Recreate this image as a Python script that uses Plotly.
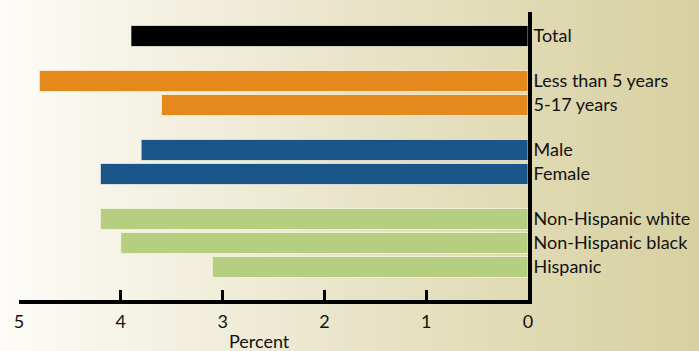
import plotly.graph_objects as go

# ---- data ----
categories = ["Total", "Less than 5 years", "5-17 years", "Male", "Female",
              "Non-Hispanic white", "Non-Hispanic black", "Hispanic"]
values = [3.9, 4.8, 3.6, 3.8, 4.2, 4.2, 4.0, 3.1]
groups = [0, 1, 1, 2, 2, 3, 3, 3]
tick_vals = [5, 4, 3, 2, 1, 0]
tick_labels = ["5", "4", "3", "2", "1", "0"]
x_title = "Percent"

# ---- style ----
group_colors = ["#000000", "#e6891c", "#1a5589", "#b6ce80"]
GAP = 0.875
BAR_W = 0.875
pos = [i + g * GAP for i, g in enumerate(groups)]

W, H = 699, 351
ML, MR, MT, MB = 19, 171, 12, 51
PW = W - ML - MR
PH = H - MT - MB

FONT = "Lato"
FS = 18


def lerp(c1, c2, t):
    return tuple(round(a + (b - a) * t) for a, b in zip(c1, c2))


stops = [(0, (253, 252, 248)), (350, (233, 228, 201)), (699, (215, 208, 160))]


def bg_color(px):
    for (x0, c0), (x1, c1) in zip(stops[:-1], stops[1:]):
        if x0 <= px <= x1:
            return lerp(c0, c1, (px - x0) / (x1 - x0))
    return stops[-1][1]


shapes = []
step = 5
for px in range(0, W, step):
    c = bg_color(px + step / 2)
    shapes.append(dict(
        type="rect", xref="paper", yref="paper", layer="below",
        x0=(px - ML) / PW, x1=(px + step + 0.5 - ML) / PW,
        y0=-MB / PH - 0.02, y1=1 + MT / PH + 0.02,
        fillcolor="rgb(%d,%d,%d)" % c, line=dict(width=0),
    ))

fig = go.Figure(go.Bar(
    x=values, y=pos, orientation="h", width=BAR_W,
    marker=dict(color=[group_colors[g] for g in groups],
                line=dict(color="rgba(250,248,228,0.7)", width=1)),
    hoverinfo="x+text", text=categories, textposition="none",
))

fig.update_layout(
    width=W, height=H,
    margin=dict(l=ML, r=MR, t=MT, b=MB, autoexpand=False),
    paper_bgcolor="rgb(240,237,220)",
    plot_bgcolor="rgba(0,0,0,0)",
    showlegend=False,
    shapes=shapes,
    font=dict(family=FONT, size=FS, color="#111111"),
    xaxis=dict(
        range=[5, 0], tickvals=tick_vals, ticktext=tick_labels,
        ticks="inside", ticklen=10, tickwidth=3, tickcolor="black",
        showline=True, linewidth=4, linecolor="black",
        showgrid=False, zeroline=False, automargin=False,
        tickfont=dict(family=FONT, size=FS, color="#111111"),
        ticklabelstandoff=2,
    ),
    yaxis=dict(
        range=[11, -1], side="right",
        tickvals=pos, ticktext=categories, ticks="",
        showline=True, linewidth=4, linecolor="black",
        showgrid=False, zeroline=False, automargin=False,
        tickfont=dict(family=FONT, size=FS, color="#111111"),
        ticklabelstandoff=-2,
    ),
    annotations=[dict(
        text=x_title, xref="paper", yref="paper",
        x=(259 - ML) / PW, y=-(341 - (H - MB)) / PH,
        xanchor="center", yanchor="middle", showarrow=False,
        font=dict(family=FONT, size=FS, color="#111111"),
    )],
)

fig.write_html("out.html")
